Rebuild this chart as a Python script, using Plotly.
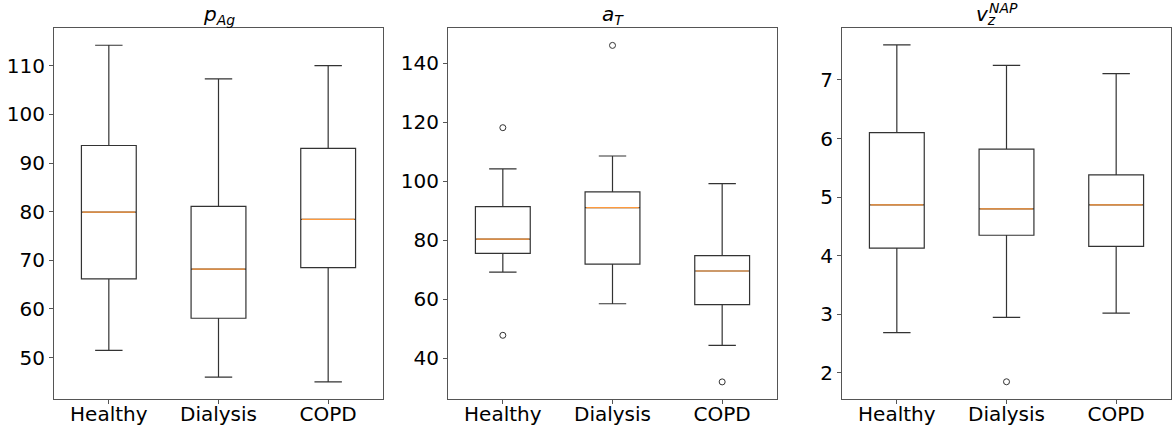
import plotly.graph_objects as go

categories = ["Healthy", "Dialysis", "COPD"]
positions = [1, 2, 3]

# p_Ag
p_low = [51.5, 46.0, 45.0]
p_q1 = [66.2, 58.1, 68.5]
p_med = [79.9, 68.2, 78.4]
p_q3 = [93.6, 81.1, 93.0]
p_high = [114.2, 107.3, 110.0]
p_out_x = []
p_out_y = []

# a_T
a_low = [69.2, 58.5, 44.4]
a_q1 = [75.6, 71.9, 58.2]
a_med = [80.4, 91.1, 69.6]
a_q3 = [91.4, 96.4, 74.8]
a_high = [104.2, 108.6, 99.2]
a_out_x = [1, 1, 2, 3]
a_out_y = [118.2, 47.8, 146.1, 32.0]

# v_z^NAP
v_low = [2.69, 2.95, 3.02]
v_q1 = [4.13, 4.35, 4.16]
v_med = [4.87, 4.80, 4.87]
v_q3 = [6.10, 5.82, 5.38]
v_high = [7.60, 7.25, 7.11]
v_out_x = [2]
v_out_y = [1.85]

panels = [
    (p_low, p_q1, p_med, p_q3, p_high, p_out_x, p_out_y, [41.5, 117.75], [50, 60, 70, 80, 90, 100, 110]),
    (a_low, a_q1, a_med, a_q3, a_high, a_out_x, a_out_y, [26.2, 152.0], [40, 60, 80, 100, 120, 140]),
    (v_low, v_q1, v_med, v_q3, v_high, v_out_x, v_out_y, [1.556, 7.887], [2, 3, 4, 5, 6, 7]),
]

L, R, T, B = 54, 5, 28, 28
W, H = 1176, 427
pw = W - L - R
px_domains = [(54, 383), (448, 777), (842, 1171)]
domains = [[(a - L) / pw, (b - L) / pw] for a, b in px_domains]

fig = go.Figure()
FONT = "DejaVu Sans"
LINEC = "#333333"
BOX_W = 0.5
FS = 20

for i, (lo, q1, med, q3, hi, ox, oy, yr, tv) in enumerate(panels):
    xa = "x" if i == 0 else f"x{i+1}"
    ya = "y" if i == 0 else f"y{i+1}"
    fig.add_trace(go.Box(
        x=positions, q1=q1, median=med, q3=q3, lowerfence=lo, upperfence=hi,
        width=BOX_W, whiskerwidth=0.5, fillcolor="rgba(0,0,0,0)",
        line=dict(color=LINEC, width=1.2), boxpoints=False,
        xaxis=xa, yaxis=ya, showlegend=False, hoverinfo="skip",
    ))
    # median lines in orange
    for p, m in zip(positions, med):
        fig.add_trace(go.Scatter(
            x=[p - BOX_W / 2 + 0.01, p + BOX_W / 2 - 0.01], y=[m, m], mode="lines",
            line=dict(color="#ff9a3c", width=1.2), xaxis=xa, yaxis=ya,
            showlegend=False, hoverinfo="skip",
        ))
    if ox:
        fig.add_trace(go.Scatter(
            x=ox, y=oy, mode="markers",
            marker=dict(symbol="circle-open", size=6, color=LINEC, line=dict(width=1)),
            xaxis=xa, yaxis=ya, showlegend=False, hoverinfo="skip",
        ))
    xkey = "xaxis" if i == 0 else f"xaxis{i+1}"
    ykey = "yaxis" if i == 0 else f"yaxis{i+1}"
    fig.layout[xkey] = dict(
        domain=domains[i], range=[0.5, 3.5], anchor=ya, automargin=False,
        tickmode="array", tickvals=positions, ticktext=categories,
        showline=True, mirror=True, linecolor="#555555", linewidth=1,
        ticks="outside", ticklen=4, tickcolor="#555555",
        showgrid=False, zeroline=False, fixedrange=True,
        ticklabelstandoff=-7,
        tickfont=dict(family=FONT, size=FS, color="black"),
    )
    fig.layout[ykey] = dict(
        domain=[0, 1], range=yr, anchor=xa, automargin=False,
        tickmode="array", tickvals=tv,
        showline=True, mirror=True, linecolor="#555555", linewidth=1,
        ticks="outside", ticklen=4, tickcolor="#555555",
        showgrid=False, zeroline=False, fixedrange=True,
        tickfont=dict(family=FONT, size=FS, color="black"),
    )

titles = [
    "<i>p</i><sub><i>Ag</i></sub>",
    "<i>a</i><sub><i>T</i></sub>",
    "<i>v</i><sub><i>z</i></sub>",
]
for i, t in enumerate(titles):
    cx = (domains[i][0] + domains[i][1]) / 2
    fig.add_annotation(
        text=t, x=cx, y=1.0, xref="paper", yref="paper",
        xanchor="center", yanchor="bottom", yshift=-2,
        xshift=(-20 if i == 2 else 0), showarrow=False,
        font=dict(family=FONT, size=FS, color="black"),
    )
# superscript for v_z^NAP
cx3 = (domains[2][0] + domains[2][1]) / 2
fig.add_annotation(
    text="<i>NAP</i>", x=cx3, y=1.0, xref="paper", yref="paper",
    xanchor="left", yanchor="bottom", xshift=-19, yshift=10, showarrow=False,
    font=dict(family=FONT, size=14, color="black"),
)

fig.update_layout(
    width=W, height=H,
    margin=dict(l=L, r=R, t=T, b=B, autoexpand=False),
    paper_bgcolor="white", plot_bgcolor="white",
    showlegend=False,
)

fig.write_html(
    "out.html",
    config={"displayModeBar": False},
    post_script="document.body.style.margin='0';document.body.style.overflow='hidden';",
)
